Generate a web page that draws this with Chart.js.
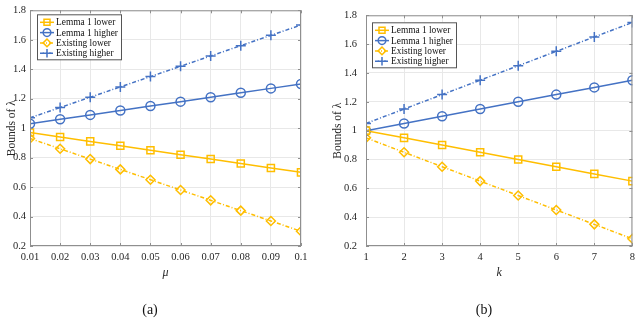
<!DOCTYPE html>
<html>
<head>
<meta charset="utf-8">
<script src="https://cdn.jsdelivr.net/npm/chart.js@4.4.0/dist/chart.umd.min.js"></script>
<style>
  body { margin: 0; background: #fff; }
  canvas { position: absolute; top: 0; }
</style>
</head>
<body>
<canvas id="chartA" width="320" height="319" style="left:0"></canvas>
<canvas id="chartB" width="320" height="319" style="left:320px"></canvas>
<script>
// (a) bounds vs mu
var muValues = [0.01, 0.02, 0.03, 0.04, 0.05, 0.06, 0.07, 0.08, 0.09, 0.1];
var lemmaLowerA = [0.97, 0.94, 0.91, 0.88, 0.85, 0.82, 0.79, 0.76, 0.73, 0.70];
var lemmaHigherA = [1.03, 1.06, 1.09, 1.12, 1.15, 1.18, 1.21, 1.24, 1.27, 1.30];
var existLowerA = [0.93, 0.86, 0.79, 0.72, 0.65, 0.58, 0.51, 0.44, 0.37, 0.30];
var existHigherA = [1.07, 1.14, 1.21, 1.28, 1.35, 1.42, 1.49, 1.56, 1.63, 1.70];

// (b) bounds vs k
var kValues = [1, 2, 3, 4, 5, 6, 7, 8];
var lemmaLowerB = [1.00, 0.95, 0.90, 0.85, 0.80, 0.75, 0.70, 0.65];
var lemmaHigherB = [1.00, 1.05, 1.10, 1.15, 1.20, 1.25, 1.30, 1.35];
var existLowerB = [0.95, 0.85, 0.75, 0.65, 0.55, 0.45, 0.35, 0.25];
var existHigherB = [1.05, 1.15, 1.25, 1.35, 1.45, 1.55, 1.65, 1.75];

var yTicks = [0.2, 0.4, 0.6, 0.8, 1, 1.2, 1.4, 1.6, 1.8];
var seriesNames = ['Lemma 1 lower', 'Lemma 1 higher', 'Existing lower', 'Existing higher'];

var YELLOW = '#FFBE00';
var BLUE = '#4472C4';
var FRAME = '#8f8f8f';
var SERIF = '"Liberation Serif", "DejaVu Serif", serif';

var styles = [
  {color: YELLOW, point: 'rect', radius: 5, dash: []},
  {color: BLUE, point: 'circle', radius: 4.5, dash: []},
  {color: YELLOW, point: 'rectRot', radius: 4.5, dash: [4, 2, 1, 2]},
  {color: BLUE, point: 'cross', radius: 5, dash: [4, 2, 1, 2]}
];

function toPoints(xs, ys) {
  return xs.map(function(x, i) { return {x: x, y: ys[i]}; });
}

function fmt(v) {
  return String(Math.round(v * 100) / 100);
}

// box around the plot, inward ticks, legend and the (a)/(b) caption
var framePlugin = {
  id: 'frame',
  afterDraw: function(chart) {
    var o = chart.options.plugins.frame;
    var ctx = chart.ctx, a = chart.chartArea;
    var xs = chart.scales.x, ys = chart.scales.y;
    ctx.save();
    ctx.strokeStyle = FRAME;
    ctx.lineWidth = 1;
    ctx.strokeRect(a.left + 0.5, a.top + 0.5, a.right - a.left - 1, a.bottom - a.top - 1);
    ctx.beginPath();
    xs.ticks.forEach(function(t) {
      var px = Math.round(xs.getPixelForValue(t.value)) + 0.5;
      ctx.moveTo(px, a.bottom); ctx.lineTo(px, a.bottom - 3);
      ctx.moveTo(px, a.top); ctx.lineTo(px, a.top + 3);
    });
    ys.ticks.forEach(function(t) {
      var py = Math.round(ys.getPixelForValue(t.value)) + 0.5;
      ctx.moveTo(a.left, py); ctx.lineTo(a.left + 3, py);
      ctx.moveTo(a.right, py); ctx.lineTo(a.right - 3, py);
    });
    ctx.stroke();

    // legend
    var lx = a.left + o.legendDx, ly = a.top + o.legendDy;
    ctx.fillStyle = '#fff';
    ctx.fillRect(lx, ly, 84, 45);
    ctx.strokeStyle = '#555';
    ctx.strokeRect(lx + 0.5, ly + 0.5, 84, 45);
    // size the legend text so the longest entry fills the box like the original
    ctx.font = '10px ' + SERIF;
    var w = ctx.measureText('Lemma 1 higher').width;
    var size = Math.min(12, 10 * 62 / w);
    ctx.font = size.toFixed(1) + 'px ' + SERIF;
    ctx.textBaseline = 'middle';
    ctx.textAlign = 'left';
    seriesNames.forEach(function(name, i) {
      var s = styles[i];
      var cy = ly + 8 + i * 10.3;
      ctx.strokeStyle = s.color;
      ctx.lineWidth = 1.5;
      ctx.setLineDash(s.dash);
      ctx.beginPath();
      ctx.moveTo(lx + 3, cy); ctx.lineTo(lx + 17, cy);
      ctx.stroke();
      ctx.setLineDash([]);
      ctx.fillStyle = 'rgba(0,0,0,0)';
      Chart.helpers.drawPoint(ctx, {pointStyle: s.point, radius: s.radius * 0.85, borderWidth: 1.5}, lx + 10, cy);
      ctx.fillStyle = '#111';
      ctx.fillText(name, lx + 19, cy + 0.5);
    });

    // caption
    ctx.font = '14px ' + SERIF;
    ctx.textAlign = 'center';
    ctx.fillStyle = '#111';
    ctx.fillText(o.caption, o.captionX, 310);
    ctx.restore();
  }
};

function makeChart(id, xs, series, xTicks, opts) {
  var datasets = series.map(function(ys, i) {
    var s = styles[i];
    return {
      label: seriesNames[i],
      data: toPoints(xs, ys),
      borderColor: s.color,
      backgroundColor: 'rgba(0,0,0,0)',
      borderWidth: 1.5,
      borderDash: s.dash,
      pointStyle: s.point,
      pointRadius: s.radius,
      pointBorderWidth: 1.5,
      pointBorderColor: s.color,
      pointBackgroundColor: 'rgba(0,0,0,0)',
      tension: 0
    };
  });
  return new Chart(id, {
    type: 'line',
    plugins: [framePlugin],
    data: {datasets: datasets},
    options: {
      responsive: false,
      animation: false,
      layout: {padding: {top: 5, right: opts.padRight, bottom: 39, left: 0}},
      plugins: {
        legend: {display: false},
        tooltip: {enabled: false},
        frame: opts
      },
      scales: {
        x: {
          type: 'linear',
          min: xTicks[0],
          max: xTicks[xTicks.length - 1],
          afterBuildTicks: function(ax) { ax.ticks = xTicks.map(function(v) { return {value: v}; }); },
          afterFit: function(ax) { ax.height = 34; },
          grid: {color: '#e8e8e8', drawTicks: false},
          border: {display: false},
          ticks: {font: {family: SERIF, size: 10.5}, color: '#262626', padding: 5, maxRotation: 0, autoSkip: false, callback: fmt},
          title: {display: true, text: opts.xTitle, font: {family: SERIF, size: 12, style: 'italic'}, color: '#262626', padding: 0}
        },
        y: {
          min: 0.2,
          max: 1.8,
          afterBuildTicks: function(ax) { ax.ticks = yTicks.map(function(v) { return {value: v}; }); },
          afterFit: function(ax) { ax.width = opts.yWidth; },
          grid: {color: '#e8e8e8', drawTicks: false},
          border: {display: false},
          ticks: {font: {family: SERIF, size: 10.5}, color: '#262626', padding: opts.yTickPad, autoSkip: false, callback: fmt},
          title: {display: true, text: 'Bounds of \u03bb', font: {family: SERIF, size: 11.5}, color: '#262626', padding: {top: opts.yTitlePad, bottom: 0}}
        }
      }
    }
  });
}

makeChart('chartA', muValues, [lemmaLowerA, lemmaHigherA, existLowerA, existHigherA], muValues,
  {padRight: 19, yWidth: 30, yTickPad: 4, yTitlePad: 5, xTitle: '\u03bc', caption: '(a)', captionX: 150, legendDx: 7, legendDy: 4});
makeChart('chartB', kValues, [lemmaLowerB, lemmaHigherB, existLowerB, existHigherB], kValues,
  {padRight: 5, yWidth: 46, yTickPad: 9, yTitlePad: 11, xTitle: 'k', caption: '(b)', captionX: 164, legendDx: 6, legendDy: 7});
</script>
</body>
</html>
